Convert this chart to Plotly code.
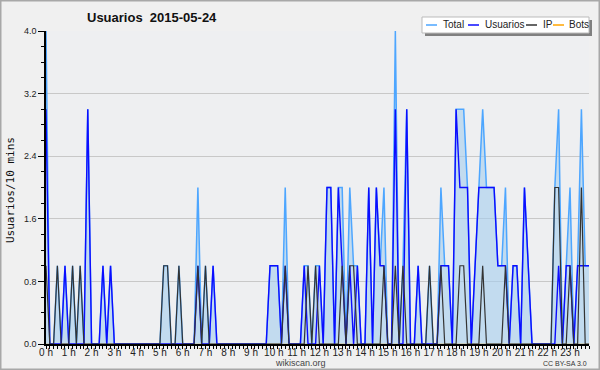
import numpy as np
import plotly.graph_objects as go

# 10-minute slots over the day (hours)
slots = np.arange(144) / 6.0

usuarios = [
    3, 0, 0, 0, 0, 1,   0, 0, 0, 0, 0, 3,   0, 0, 0, 1, 0, 1,   0, 0, 0, 0, 0, 0,
    0, 0, 0, 0, 0, 0,   0, 0, 0, 0, 0, 0,   0, 0, 0, 0, 1, 0,   0, 0, 1, 0, 0, 0,
    0, 0, 0, 0, 0, 0,   0, 0, 0, 0, 0, 1,   1, 1, 0, 1, 0, 0,   0, 0, 1, 0, 0, 0,
    1, 0, 2, 2, 0, 2,   1, 0, 1, 0, 1, 0,   0, 2, 0, 2, 1, 1,   0, 0, 3, 0, 0, 3,
    0, 0, 1, 0, 0, 0,   0, 0, 1, 1, 1, 0,   3, 2, 2, 2, 0, 1,   2, 2, 2, 2, 2, 1,
    1, 1, 0, 1, 1, 0,   2, 1, 0, 0, 0, 0,   0, 0, 0, 1, 0, 1,   1, 0, 1, 1, 1, 1,
]
ip = [
    1, 0, 0, 1, 0, 0,   0, 1, 0, 1, 0, 0,   0, 0, 0, 0, 0, 0,   0, 0, 0, 0, 0, 0,
    0, 0, 0, 0, 0, 0,   0, 1, 1, 0, 0, 1,   0, 0, 0, 0, 1, 0,   1, 0, 0, 0, 0, 0,
    0, 0, 0, 0, 0, 0,   0, 0, 0, 0, 0, 0,   0, 0, 0, 1, 0, 0,   0, 0, 0, 1, 0, 1,
    0, 0, 0, 0, 0, 0,   1, 0, 1, 1, 0, 0,   0, 0, 0, 0, 0, 1,   0, 0, 1, 0, 1, 0,
    0, 0, 0, 0, 0, 1,   0, 0, 1, 0, 0, 0,   0, 1, 1, 0, 0, 0,   0, 1, 0, 0, 0, 0,
    0, 1, 0, 0, 0, 0,   0, 0, 0, 0, 0, 0,   0, 0, 2, 2, 0, 0,   1, 0, 0, 2, 0, 0,
]
total = [
    4, 0, 0, 1, 0, 1,   0, 1, 0, 1, 0, 3,   0, 0, 0, 1, 0, 1,   0, 0, 0, 0, 0, 0,
    0, 0, 0, 0, 0, 0,   0, 1, 1, 0, 0, 1,   0, 0, 0, 0, 2, 0,   1, 0, 1, 0, 0, 0,
    0, 0, 0, 0, 0, 0,   0, 0, 0, 0, 0, 1,   1, 1, 0, 2, 0, 0,   0, 0, 1, 1, 0, 1,
    1, 0, 2, 2, 0, 2,   2, 0, 2, 1, 1, 0,   0, 2, 0, 2, 1, 2,   0, 0, 4, 0, 1, 3,
    0, 0, 1, 0, 0, 1,   0, 0, 2, 1, 1, 0,   3, 3, 3, 2, 0, 1,   2, 3, 2, 2, 2, 1,
    1, 2, 0, 1, 1, 0,   2, 1, 0, 0, 0, 0,   0, 0, 2, 3, 0, 1,   2, 0, 1, 3, 1, 1,
]
bots = [0] * 144

hour_ticks = list(range(24))
hour_labels = [f"{h} h" for h in hour_ticks]
y_ticks = [0.0, 0.8, 1.6, 2.4, 3.2, 4.0]

legend_names = ["Total", "Usuarios", "IP", "Bots"]
legend_colors = ["#4da6ff", "#0c0cff", "#333333", "#ffa500"]

FONT = "Liberation Sans, Arial, sans-serif"

fig = go.Figure()
fig.add_trace(go.Scatter(x=slots, y=bots, mode="lines",
                         line=dict(color="#ffa500", width=1.2), showlegend=False))
fig.add_trace(go.Scatter(x=slots, y=total, mode="lines", fill="tozeroy",
                         fillcolor="rgba(165,205,238,0.6)",
                         line=dict(color="#4da6ff", width=1.5), showlegend=False))
fig.add_trace(go.Scatter(x=slots, y=usuarios, mode="lines",
                         line=dict(color="#0c0cff", width=1.4), showlegend=False))
fig.add_trace(go.Scatter(x=slots, y=ip, mode="lines",
                         line=dict(color="#333333", width=1.2), showlegend=False))

L, R, T, B = 46, 11, 31, 26
W, H = 600, 370
pw, ph = W - L - R, H - T - B

def px_x(px):
    return (px - L) / pw

def px_y(py):
    return (H - B - py) / ph

shapes = []
# outer frame
shapes.append(dict(type="rect", xref="paper", yref="paper",
                   x0=px_x(0.5), x1=px_x(W - 0.5), y0=px_y(H - 0.5), y1=px_y(0.5),
                   line=dict(color="#a8a8a8", width=2), layer="above"))
# legend shadow + box
lx0, lx1, ly0, ly1 = 422, 589, 17, 33
shapes.append(dict(type="rect", xref="paper", yref="paper",
                   x0=px_x(lx0 + 3), x1=px_x(lx1 + 3), y0=px_y(ly1 + 3), y1=px_y(ly0 + 3),
                   line=dict(width=0), fillcolor="#808080", layer="above"))
shapes.append(dict(type="rect", xref="paper", yref="paper",
                   x0=px_x(lx0), x1=px_x(lx1), y0=px_y(ly1), y1=px_y(ly0),
                   line=dict(color="#bbbbbb", width=1), fillcolor="#ffffff", layer="above"))

annotations = []
item_x = [426, 468, 526, 553]
text_x = [441, 483, 541, 567]
ly = 25
for name, col, sx, tx in zip(legend_names, legend_colors, item_x, text_x):
    shapes.append(dict(type="line", xref="paper", yref="paper",
                       x0=px_x(sx), x1=px_x(sx + 11), y0=px_y(ly), y1=px_y(ly),
                       line=dict(color=col, width=1.5), layer="above"))
    annotations.append(dict(text=name, xref="paper", yref="paper", x=px_x(tx), y=px_y(ly),
                            xanchor="left", yanchor="middle", showarrow=False,
                            font=dict(family=FONT, size=10, color="#222222")))

annotations.append(dict(text="<b>Usuarios  2015-05-24</b>", xref="paper", yref="paper",
                        x=px_x(85), y=px_y(17), xanchor="left", yanchor="middle",
                        showarrow=False, font=dict(family=FONT, size=13, color="#111111")))
annotations.append(dict(text="Usuarios/10 mins", xref="paper", yref="paper",
                        x=px_x(10), y=px_y(190), xanchor="center", yanchor="middle",
                        textangle=-90, showarrow=False,
                        font=dict(family="DejaVu Sans Mono, monospace", size=11, color="#111111")))
annotations.append(dict(text="wikiscan.org", xref="paper", yref="paper",
                        x=px_x(300), y=px_y(363), xanchor="center", yanchor="middle",
                        showarrow=False, font=dict(family=FONT, size=9, color="#444444")))
annotations.append(dict(text="CC BY-SA 3.0", xref="paper", yref="paper",
                        x=px_x(589), y=px_y(363), xanchor="right", yanchor="middle",
                        showarrow=False, font=dict(family=FONT, size=7, color="#333333")))

fig.update_layout(
    width=W, height=H,
    margin=dict(l=L, r=R, t=T, b=B, pad=0, autoexpand=False),
    paper_bgcolor="#f0f0f0",
    plot_bgcolor="#eeeff1",
    showlegend=False,
    shapes=shapes,
    annotations=annotations,
    xaxis=dict(range=[0, 143 / 6], tickvals=hour_ticks, ticktext=hour_labels,
               automargin=False,
               showgrid=False, zeroline=False, showline=True, linecolor="#000000", linewidth=1.5,
               ticks="outside", ticklen=3, tickcolor="#000000", tickwidth=1,
               ticklabelstandoff=-5,
               tickfont=dict(family=FONT, size=10, color="#222222"),
               minor=dict(dtick=1 / 6, tick0=0, ticks="outside", ticklen=3,
                          tickcolor="#000000", tickwidth=1, showgrid=False),
               fixedrange=True),
    yaxis=dict(range=[0, 4], tickvals=y_ticks, tickformat=".1f",
               automargin=False,
               showgrid=True, gridcolor="#c8c8c8", gridwidth=1, zeroline=False,
               showline=True, linecolor="#000000", linewidth=1.5,
               ticks="outside", ticklen=6, tickcolor="#000000", tickwidth=1,
               tickfont=dict(family=FONT, size=9, color="#222222"),
               minor=dict(dtick=0.2, tick0=0, ticks="outside", ticklen=3,
                          tickcolor="#000000", tickwidth=1, showgrid=False),
               fixedrange=True),
)

fig.write_html("out.html")
